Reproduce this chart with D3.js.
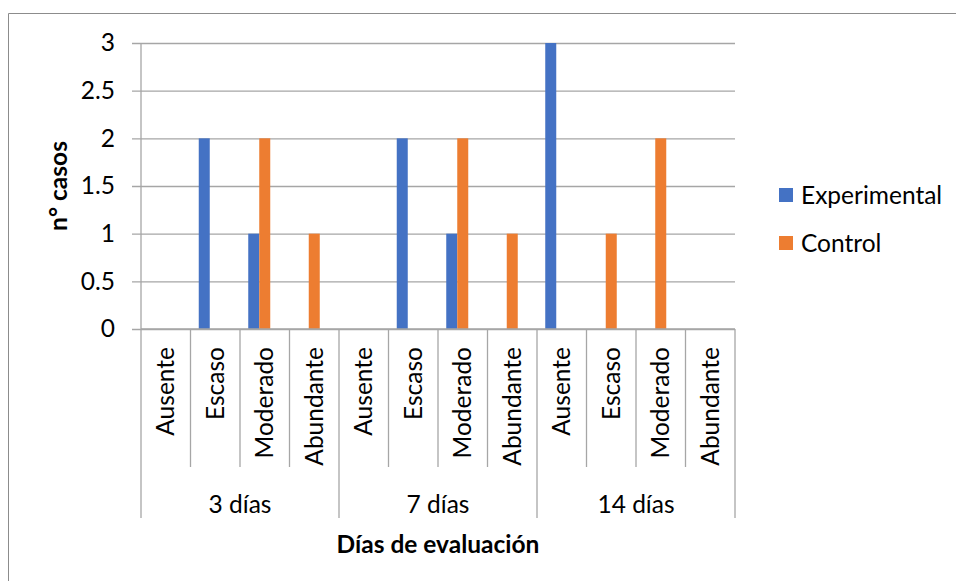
<!DOCTYPE html>
<html>
<head>
<meta charset="utf-8">
<script src="https://cdn.jsdelivr.net/npm/d3@7"></script>
<style>
  html, body { margin: 0; padding: 0; background: #fff; }
  svg { display: block; font-family: Lato, "Open Sans", sans-serif; }
</style>
</head>
<body>
<svg id="chart" width="956" height="581"></svg>
<script>
// Evaluation days and the level recorded in each
const groups = ["3 días", "7 días", "14 días"];
const levels = ["Ausente", "Escaso", "Moderado", "Abundante"];

// Number of cases per level, in order: 3 días, 7 días, 14 días
const experimental = [0, 2, 1, 0,  0, 2, 1, 0,  3, 0, 0, 0];
const control      = [0, 0, 2, 1,  0, 0, 2, 1,  0, 1, 2, 0];

const seriesNames = ["Experimental", "Control"];
const seriesColors = ["#4472c4", "#ed7d31"];
const yTicks = [0, 0.5, 1, 1.5, 2, 2.5, 3];

const categories = groups.flatMap(g => levels.map(l => ({ group: g, level: l, key: g + "|" + l })));
const seriesValues = [experimental, control];

const svg = d3.select("#chart");
const W = 956, H = 581;
const plot = { left: 141, right: 735, top: 43, bottom: 329 };
const axisColor = "#a6a6a6";
const fontSize = 24.5;

svg.append("rect").attr("width", W).attr("height", H).attr("fill", "#fff");

// chart frame (clipped by the page on the right and bottom)
svg.append("path")
  .attr("d", `M8.5,${H} V13.5 H${W}`)
  .attr("fill", "none").attr("stroke", "#8c8c8c").attr("stroke-width", 1);

const y = d3.scaleLinear().domain([0, 3]).range([plot.bottom, plot.top]);
const x0 = d3.scaleBand().domain(categories.map(d => d.key)).range([plot.left, plot.right]).padding(0);
// three slots per cluster; the series fill the first two
const x1 = d3.scaleBand().domain([0, 1, 2]).range([0, x0.bandwidth()]).paddingInner(0).paddingOuter(0.75);

// horizontal gridlines, drawn from the right edge leftwards past the axis as tick stubs
const yAxis = d3.axisLeft(y).tickValues(yTicks).tickFormat(d => String(d))
  .tickSize(plot.right - plot.left + 9).tickSizeOuter(0).tickPadding(17);
const gy = svg.append("g").attr("transform", `translate(${plot.right},0)`).call(yAxis);
gy.select(".domain").remove();
gy.selectAll(".tick line").attr("stroke", axisColor).attr("stroke-width", 1.3);
gy.selectAll(".tick text")
  .attr("fill", "#000").attr("font-size", fontSize).attr("font-family", "Lato, sans-serif");

// vertical value axis line
svg.append("line").attr("x1", plot.left).attr("x2", plot.left)
  .attr("y1", plot.top).attr("y2", plot.bottom)
  .attr("stroke", axisColor).attr("stroke-width", 1.3);

// bars
categories.forEach((c, i) => {
  seriesValues.forEach((vals, s) => {
    const v = vals[i];
    if (!v) return;
    svg.append("rect")
      .attr("x", x0(c.key) + x1(s))
      .attr("y", y(v))
      .attr("width", x1.bandwidth())
      .attr("height", y(0) - y(v))
      .attr("fill", seriesColors[s]);
  });
});

// category axis: boundaries between levels and between day groups
const boundaries = d3.range(categories.length + 1).map(i =>
  i < categories.length ? x0(categories[i].key) : plot.right);
boundaries.forEach((bx, i) => {
  svg.append("line")
    .attr("x1", bx).attr("x2", bx)
    .attr("y1", plot.bottom).attr("y2", i % levels.length === 0 ? 518 : 467)
    .attr("stroke", axisColor).attr("stroke-width", 1.3);
});
svg.append("line").attr("x1", plot.left).attr("x2", plot.right)
  .attr("y1", plot.bottom).attr("y2", plot.bottom)
  .attr("stroke", axisColor).attr("stroke-width", 1.3);

// rotated level labels
categories.forEach(c => {
  const cx = x0(c.key) + x0.bandwidth() / 2;
  svg.append("text")
    .attr("transform", `translate(${cx},347) rotate(-90)`)
    .attr("text-anchor", "end").attr("dy", "0.35em")
    .attr("font-size", fontSize).attr("fill", "#000")
    .text(c.level);
});

// day group labels
groups.forEach((g, gi) => {
  const gx0 = x0(categories[gi * levels.length].key);
  const gx1 = gx0 + x0.bandwidth() * levels.length;
  svg.append("text")
    .attr("x", (gx0 + gx1) / 2).attr("y", 504).attr("dy", "0.35em")
    .attr("text-anchor", "middle").attr("font-size", fontSize).attr("fill", "#000")
    .text(g);
});

// axis titles
svg.append("text")
  .attr("x", (plot.left + plot.right) / 2).attr("y", 544).attr("dy", "0.35em")
  .attr("text-anchor", "middle").attr("font-size", fontSize).attr("font-weight", "bold")
  .attr("fill", "#000").text("Días de evaluación");
svg.append("text")
  .attr("transform", `translate(58,186) rotate(-90)`)
  .attr("text-anchor", "middle").attr("dy", "0.35em")
  .attr("font-size", fontSize).attr("font-weight", "bold").attr("fill", "#000")
  .text("n° casos");

// legend
const legend = svg.append("g").attr("transform", "translate(779,188)");
seriesNames.forEach((name, s) => {
  const row = legend.append("g").attr("transform", `translate(0,${s * 48})`);
  row.append("rect").attr("width", 14).attr("height", 14).attr("fill", seriesColors[s]);
  row.append("text").attr("x", 22).attr("y", 7).attr("dy", "0.35em")
    .attr("font-size", fontSize).attr("fill", "#000").text(name);
});
</script>
</body>
</html>
